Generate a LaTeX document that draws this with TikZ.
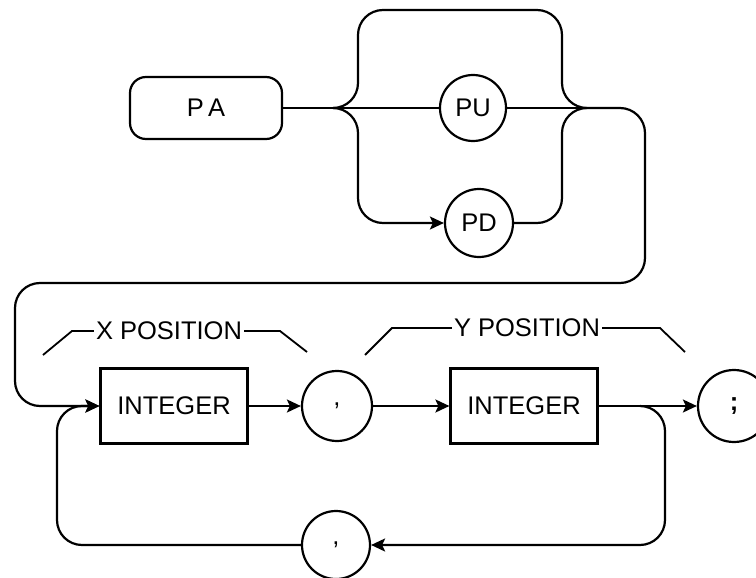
\documentclass[tikz,border=0pt]{standalone}
\usepackage{fontspec}
\setmainfont{Liberation Sans}
\usetikzlibrary{arrows.meta}
\begin{document}
\begin{tikzpicture}[x=1pt,y=-1pt,
  every node/.style={font=\fontsize{25.5}{30}\selectfont},
  ln/.style={line width=2.2pt, rounded corners=25pt},
  arr/.style={ln, -{Stealth[length=14pt,width=13pt,inset=3pt]}},
  rbox/.style={draw, line width=2.2pt, rounded corners=16pt, minimum width=152pt, minimum height=62pt, inner sep=0pt},
  sbox/.style={draw, line width=2.2pt, minimum width=147pt, minimum height=75pt, inner sep=0pt},
  cbox/.style={draw, circle, line width=2.2pt, minimum size=68pt, inner sep=0pt},
  lbl/.style={inner sep=0pt},
  brk/.style={line width=1.8pt}]
\useasboundingbox (0,0) rectangle (756,578);

% nodes
\node[rbox] (pa) at (206,108) {P\,A};
\node[cbox, minimum size=66pt] (pu) at (473,108) {PU};
\node[cbox] (pd) at (479,223) {PD};
\node[sbox] (int1) at (174,406) {INTEGER};
\node[cbox, minimum size=70pt] (c1) at (337,406) {,};
\node[sbox] (int2) at (524,406) {INTEGER};
\node[cbox, minimum size=72pt] (semi) at (734,406) {\textbf{;}};
\node[cbox] (c2) at (336,545) {,};
\node[lbl] (xlab) at (169,331) {X POSITION};
\node[lbl] (ylab) at (527,328) {Y POSITION};
\coordinate (br) at (333,108);
\coordinate (mg) at (587,108);
\coordinate (lp) at (640,406);

% top part
\draw[ln] (pa.east) -- (br);
\draw[ln] (br) -- (pu.west);
\draw[ln] (pu.east) -- (mg);
\draw[ln] (br) -- (358,108) -- (358,10) -- (562,10) -- (562,108) -- (mg);
\draw[arr] (br) -- (358,108) -- (358,223) -- (pd.west);
\draw[ln] (pd.east) -- (562,223) -- (562,108) -- (mg);

% return to row two
\draw[arr] (mg) -- (645,108) -- (645,283) -- (15,283) -- (15,406) -- (int1.west);

% row two
\draw[arr] (int1.east) -- (c1.west);
\draw[arr] (c1.east) -- (int2.west);
\draw[arr] (int2.east) -- (semi.west);

% loop back
\draw[arr] (lp) -- (665,406) -- (665,545) -- (c2.east);
\draw[arr] (c2.west) -- (57,545) -- (57,406) -- (int1.west);

% brackets
\draw[brk] (43,355) -- (72,331) -- ([xshift=-2pt]xlab.west);
\draw[brk] ([xshift=2pt]xlab.east) -- (280,331) -- (307,352);
\draw[brk] (365,355) -- (392,328) -- ([xshift=-2pt]ylab.west);
\draw[brk] ([xshift=2pt]ylab.east) -- (660,328) -- (685,352);
\end{tikzpicture}
\end{document}
